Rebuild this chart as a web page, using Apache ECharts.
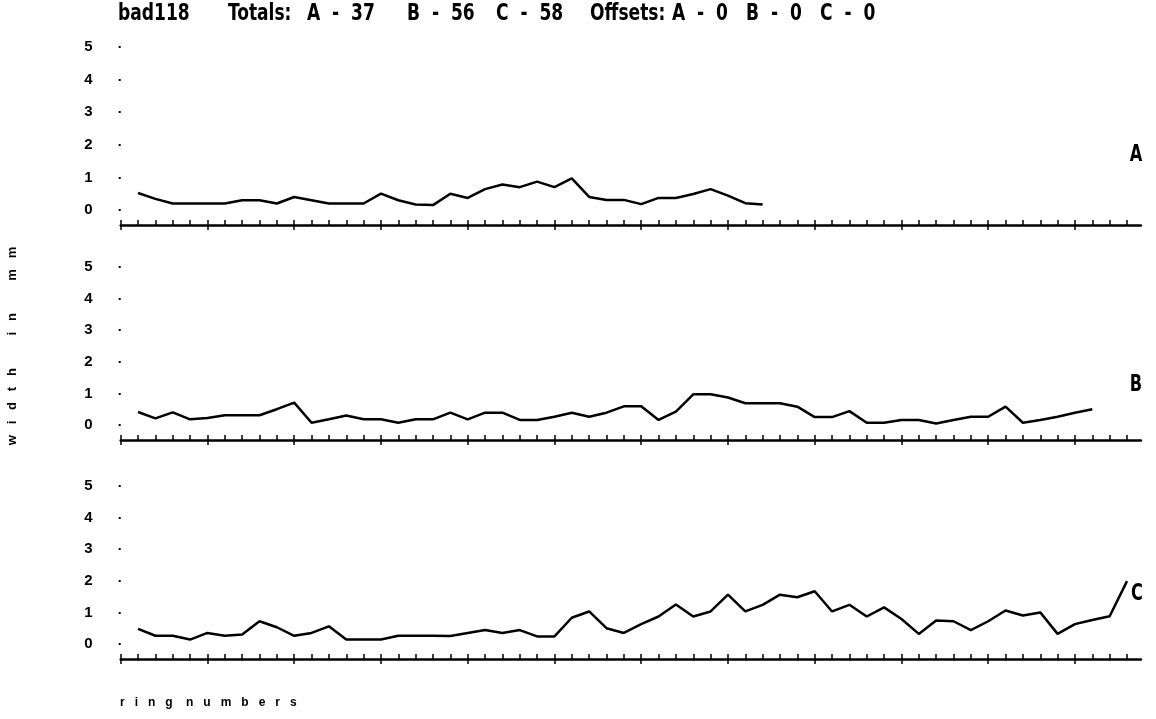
<!DOCTYPE html>
<html>
<head>
<meta charset="utf-8">
<script src="https://cdn.jsdelivr.net/npm/echarts@6/dist/echarts.min.js"></script>
<style>
  html, body { margin: 0; padding: 0; background: #fff; }
  #chart { width: 1156px; height: 719px; }
</style>
</head>
<body>
<div id="chart"></div>
<script>
// Ring-width measurements (mm) for the three radii of sample bad118, ring 1 onward
const widthsA = [0.52, 0.34, 0.2, 0.2, 0.2, 0.2, 0.3, 0.3, 0.2, 0.4,
                 0.3, 0.2, 0.2, 0.2, 0.5, 0.3, 0.17, 0.15, 0.5, 0.37,
                 0.64, 0.78, 0.7, 0.87, 0.7, 0.97, 0.4, 0.31, 0.31, 0.18,
                 0.37, 0.37, 0.49, 0.64, 0.44, 0.21, 0.17];
const widthsB = [0.41, 0.21, 0.4, 0.18, 0.22, 0.31, 0.31, 0.31, 0.5, 0.71,
                 0.07, 0.18, 0.3, 0.18, 0.18, 0.07, 0.18, 0.18, 0.39, 0.18,
                 0.39, 0.39, 0.16, 0.16, 0.26, 0.39, 0.26, 0.39, 0.59, 0.59,
                 0.16, 0.42, 0.97, 0.97, 0.87, 0.69, 0.69, 0.69, 0.58, 0.25,
                 0.25, 0.44, 0.07, 0.07, 0.16, 0.16, 0.05, 0.16, 0.26, 0.26,
                 0.58, 0.07, 0.16, 0.26, 0.39, 0.5];
const widthsC = [0.48, 0.26, 0.26, 0.14, 0.35, 0.26, 0.3, 0.72, 0.53, 0.26,
                 0.35, 0.56, 0.14, 0.14, 0.14, 0.26, 0.26, 0.26, 0.25, 0.35,
                 0.44, 0.35, 0.44, 0.24, 0.24, 0.83, 1.03, 0.5, 0.35, 0.63,
                 0.87, 1.25, 0.87, 1.03, 1.56, 1.03, 1.24, 1.56, 1.48, 1.67,
                 1.03, 1.24, 0.87, 1.16, 0.79, 0.32, 0.74, 0.72, 0.44, 0.72,
                 1.06, 0.9, 1.0, 0.32, 0.63, 0.76, 0.88, 1.99];

const radiusNames = ['A', 'B', 'C'];
const ringMinorTicks = [0, 1, 2, 3, 4, 5, 6, 7, 8, 9, 10, 11, 12, 13, 14, 15, 16, 17, 18, 19,
                        20, 21, 22, 23, 24, 25, 26, 27, 28, 29, 30, 31, 32, 33, 34, 35, 36, 37, 38, 39,
                        40, 41, 42, 43, 44, 45, 46, 47, 48, 49, 50, 51, 52, 53, 54, 55, 56, 57, 58];
const ringMajorTicks = [0, 5, 10, 15, 20, 25, 30, 35, 40, 45, 50, 55];
const widthTicks = [0, 1, 2, 3, 4, 5];

// heading pieces: sample id, ring totals per radius, offsets per radius
const sampleId = 'bad118';
const totalsLabel = 'Totals:';
const totals = ['A  -  37', 'B  -  56', 'C  -  58'];
const offsetsLabel = 'Offsets:';
const offsets = ['A  -  0', 'B  -  0', 'C  -  0'];
const yAxisName = 'w   i   d   t   h         i   n         m   m';
const xAxisName = 'r   i   n   g    n   u   m   b   e   r   s';

// ---- layout ----
const plotLeft = 120.7;
const ringPx = 17.35;              // horizontal pixels per ring
const ringMax = 58.8;              // axis line runs a little past the last tick
const unitPx = [32.6, 31.6, 31.6]; // vertical pixels per mm in each panel
const zeroY = [210, 425, 644];     // baseline (0 mm) of each panel
const axisDrop = [15, 15, 15];     // ring axis sits below the 0 mm level

const HEAD_FONT = 'DejaVu Sans Condensed, DejaVu Sans, sans-serif';
const SANS = 'Liberation Sans, Arial, sans-serif';

const seriesWidths = [widthsA, widthsB, widthsC];

const grids = [], xAxes = [], yAxes = [], series = [];
seriesWidths.forEach((vals, g) => {
  grids.push({
    left: plotLeft,
    top: zeroY[g] - 5 * unitPx[g],
    width: ringMax * ringPx,
    height: 5 * unitPx[g]
  });
  // axis line + small upward ticks at every ring
  xAxes.push({
    gridIndex: g, type: 'value', min: 0, max: ringMax, position: 'bottom', offset: axisDrop[g],
    axisLine: { show: true, onZero: false, lineStyle: { color: '#000', width: 2.5 } },
    axisTick: { show: true, customValues: ringMinorTicks, inside: true, length: 5,
                lineStyle: { color: '#000', width: 1.5 } },
    axisLabel: { show: false }, splitLine: { show: false }
  });
  // every fifth ring: tick continues below the line
  xAxes.push({
    gridIndex: g, type: 'value', min: 0, max: ringMax, position: 'bottom', offset: axisDrop[g],
    axisLine: { show: false, onZero: false },
    axisTick: { show: true, customValues: ringMajorTicks, inside: false, length: 5,
                lineStyle: { color: '#000', width: 1.5 } },
    axisLabel: { show: false }, splitLine: { show: false }
  });
  yAxes.push({
    gridIndex: g, type: 'value', min: 0, max: 5, interval: 1,
    axisLine: { show: false },
    axisTick: { show: true, length: 2, lineStyle: { color: '#000', width: 2 } },
    axisLabel: {
      show: true, margin: 28, color: '#000', fontSize: 15, fontWeight: 'bold',
      fontFamily: SANS, customValues: widthTicks
    },
    splitLine: { show: false }
  });
  series.push({
    type: 'line',
    name: radiusNames[g],
    xAxisIndex: g * 2,
    yAxisIndex: g,
    data: vals.map((v, i) => [i + 1, v]),
    showSymbol: false,
    symbol: 'none',
    clip: false,
    lineStyle: { color: '#000', width: 2.5 },
    animation: false
  });
});

// tall, narrow heading glyphs: condensed face stretched vertically
const headText = (txt, x) => ({
  type: 'text', x: x, y: 14, scaleY: 1.25,
  style: { text: txt, fill: '#000', fontSize: 19, fontWeight: 'bold', fontFamily: HEAD_FONT,
           align: 'left', verticalAlign: 'middle' }
});
const panelName = (txt, x, y) => ({
  type: 'text', x: x, y: y, scaleY: 1.3,
  style: { text: txt, fill: '#000', fontSize: 18, fontWeight: 'bold', fontFamily: HEAD_FONT,
           align: 'center', verticalAlign: 'middle' }
});

const graphics = [
  headText(sampleId, 118),
  headText(totalsLabel, 228),
  headText(totals[0], 307),
  headText(totals[1], 407),
  headText(totals[2], 496),
  headText(offsetsLabel, 590),
  headText(offsets[0], 672),
  headText(offsets[1], 746),
  headText(offsets[2], 820),
  panelName(radiusNames[0], 1136, 155),
  panelName(radiusNames[1], 1136, 385),
  panelName(radiusNames[2], 1137, 594),
  { type: 'text', x: 12, y: 346, rotation: Math.PI / 2,
    style: { text: yAxisName, fill: '#000', fontSize: 13, fontWeight: 'bold', fontFamily: SANS,
             align: 'center', verticalAlign: 'middle' } },
  { type: 'text', left: 120, top: 697,
    style: { text: xAxisName, fill: '#000', fontSize: 12, fontWeight: 'bold', fontFamily: SANS } }
];

const chart = echarts.init(document.getElementById('chart'), null, { renderer: 'canvas' });
chart.setOption({
  animation: false,
  backgroundColor: '#fff',
  grid: grids,
  xAxis: xAxes,
  yAxis: yAxes,
  series: series,
  graphic: graphics
});
</script>
</body>
</html>
